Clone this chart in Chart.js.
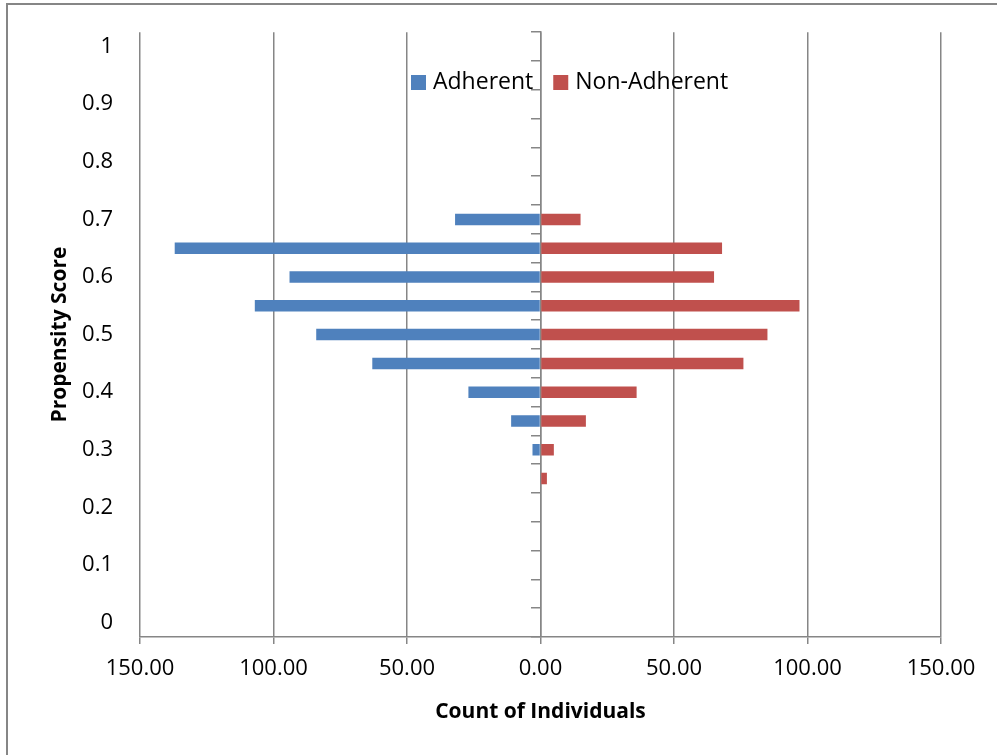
<!DOCTYPE html>
<html>
<head>
<meta charset="utf-8">
<script src="https://cdn.jsdelivr.net/npm/chart.js@4/dist/chart.umd.min.js"></script>
<style>
  html, body { margin: 0; padding: 0; background: #fff; }
  #wrap { position: relative; width: 997px; height: 755px; }
</style>
</head>
<body>
<div id="wrap"><canvas id="c" width="997" height="755"></canvas></div>
<script>
// Propensity score bins (category axis, bottom to top)
const categories = ['0','0.05','0.1','0.15','0.2','0.25','0.3','0.35','0.4','0.45','0.5',
                    '0.55','0.6','0.65','0.7','0.75','0.8','0.85','0.9','0.95','1'];
// Counts per bin (Adherent drawn to the left as negative values)
const adherent    = [null,null,null,null,null, 0, 3, 11, 27, 63, 84, 107, 94, 137, 32, null,null,null,null,null,null];
const nonAdherent = [null,null,null,null,null, 2.4, 5, 17, 36, 76, 85, 97, 65, 68, 15, null,null,null,null,null,null];
const seriesNames = ['Adherent', 'Non-Adherent'];
const xTicks = [-150, -100, -50, 0, 50, 100, 150];

const FONT = "'Open Sans', 'Liberation Sans', sans-serif";
const GRID = '#868686';
const BLUE = '#4F81BD';
const RED = '#C0504D';

const framePlugin = {
  id: 'frame',
  beforeDraw(chart) {
    const ctx = chart.ctx;
    ctx.save();
    ctx.strokeStyle = GRID;
    ctx.lineWidth = 2;
    ctx.beginPath();
    ctx.moveTo(7, 755);
    ctx.lineTo(7, 4);
    ctx.lineTo(997, 4);
    ctx.stroke();
    ctx.restore();
  }
};

const legendPlugin = {
  id: 'insideLegend',
  afterDraw(chart) {
    const ctx = chart.ctx;
    ctx.save();
    ctx.font = '23px ' + FONT;
    ctx.textBaseline = 'middle';
    ctx.fillStyle = '#000';
    let x = 411;
    const y = 82;
    chart.data.datasets.forEach((ds, i) => {
      ctx.fillStyle = ds.backgroundColor;
      ctx.fillRect(x, y - 7, 15, 15);
      x += 22;
      ctx.fillStyle = '#000';
      ctx.fillText(ds.label, x, y);
      x += ctx.measureText(ds.label).width + 20;
    });
    ctx.restore();
  }
};

new Chart(document.getElementById('c'), {
  type: 'bar',
  data: {
    labels: categories,
    datasets: [
      { label: seriesNames[0], data: adherent.map(v => v === null ? null : -v),
        backgroundColor: BLUE, barPercentage: 0.4, categoryPercentage: 1.0 },
      { label: seriesNames[1], data: nonAdherent,
        backgroundColor: RED, barPercentage: 0.4, categoryPercentage: 1.0 }
    ]
  },
  options: {
    indexAxis: 'y',
    responsive: false,
    animation: false,
    layout: { padding: { left: 0, right: 56, top: 24, bottom: 0 } },
    plugins: { legend: { display: false }, tooltip: { enabled: false } },
    scales: {
      x: {
        type: 'linear',
        stacked: true,
        min: -150, max: 150,
        afterBuildTicks(scale) { scale.ticks = xTicks.map(v => ({ value: v })); },
        ticks: {
          callback: v => Math.abs(v).toFixed(2),
          color: '#000',
          font: { family: FONT, size: 22 },
          padding: 12,
          maxRotation: 0,
          autoSkip: false
        },
        grid: { color: GRID, lineWidth: 1.5, tickLength: 7, drawTicks: true },
        border: { color: GRID, width: 1.5 },
        title: {
          display: true, text: 'Count of Individuals', color: '#000',
          font: { family: FONT, size: 21, weight: 'bold' },
          padding: { top: 4, bottom: 30 }
        },
        afterFit(scale) { scale.height = 118; }
      },
      y: {
        type: 'category',
        stacked: true,
        reverse: true,
        offset: true,
        grid: { display: false, offset: true },
        border: { display: false },
        ticks: {
          autoSkip: false,
          color: '#000',
          font: { family: FONT, size: 22 },
          padding: 19,
          callback: function(v, i) { return i % 2 === 0 ? categories[i] : ''; }
        },
        title: {
          display: true, text: 'Propensity Score', color: '#000',
          font: { family: FONT, size: 21, weight: 'bold' },
          padding: { top: 47, bottom: 0 }
        },
        afterFit(scale) { scale.width = 140; }
      },
      y2: {
        type: 'category',
        reverse: true,
        offset: true,
        position: { x: 0 },
        grid: { display: true, offset: true, drawOnChartArea: false, drawTicks: true,
                tickLength: 9, color: GRID, lineWidth: 1.5 },
        border: { display: true, color: GRID, width: 1.5 },
        ticks: { display: false, autoSkip: false }
      }
    }
  },
  plugins: [framePlugin, legendPlugin]
});
</script>
</body>
</html>
